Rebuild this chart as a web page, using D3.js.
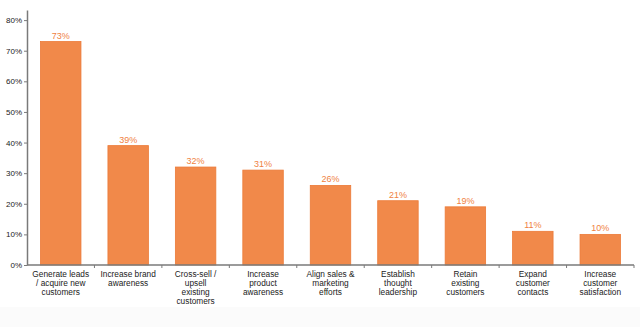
<!DOCTYPE html>
<html>
<head>
<meta charset="utf-8">
<script src="https://cdn.jsdelivr.net/npm/d3@7"></script>
<style>
  html, body { margin: 0; padding: 0; background: #fff; }
  svg { display: block; }
</style>
</head>
<body>
<svg id="chart" width="640" height="327"></svg>
<script>
const categories = [
  ["Generate leads", "/ acquire new", "customers"],
  ["Increase brand", "awareness"],
  ["Cross-sell /", "upsell", "existing", "customers"],
  ["Increase", "product", "awareness"],
  ["Align sales &", "marketing", "efforts"],
  ["Establish", "thought", "leadership"],
  ["Retain", "existing", "customers"],
  ["Expand", "customer", "contacts"],
  ["Increase", "customer", "satisfaction"]
];
const values = [73, 39, 32, 31, 26, 21, 19, 11, 10];
const yTicks = [0, 10, 20, 30, 40, 50, 60, 70, 80];

const svg = d3.select("#chart");
const font = "'Liberation Sans', Arial, Helvetica, sans-serif";
const barColor = "#f1894a";
const axisColor = "#7a7a7a";

// faint bottom band
svg.append("rect").attr("x", 0).attr("y", 307).attr("width", 640).attr("height", 20).attr("fill", "#fbfbfb");

const x = d3.scaleBand().domain(d3.range(categories.length)).range([27, 634]).paddingInner(0.4).paddingOuter(0.2);
const y = d3.scaleLinear().domain([0, 83.3]).range([265, 10]);

// bars
svg.append("g").selectAll("rect").data(values).join("rect")
  .attr("x", (d, i) => x(i))
  .attr("y", d => y(d))
  .attr("width", x.bandwidth())
  .attr("height", d => y(0) - y(d))
  .attr("fill", barColor)
  .attr("stroke", "#ec7a38")
  .attr("stroke-width", 0.8);

// value labels
svg.append("g").selectAll("text").data(values).join("text")
  .attr("x", (d, i) => x(i) + x.bandwidth() / 2)
  .attr("y", d => y(d) - 3)
  .attr("text-anchor", "middle")
  .attr("font-family", font)
  .attr("font-size", 9)
  .attr("fill", "#f0823f")
  .text(d => d + "%");

// y axis
const yAxis = svg.append("g").attr("transform", "translate(27,0)")
  .call(d3.axisLeft(y).tickValues(yTicks).tickFormat(d => d + "%").tickSize(3).tickSizeOuter(0));
yAxis.select(".domain").attr("stroke", axisColor).attr("stroke-width", 1.5);
yAxis.selectAll(".tick line").attr("stroke", axisColor);
yAxis.selectAll(".tick text").attr("font-family", font).attr("font-size", 8).attr("fill", "#222").attr("x", -5);

// x axis with ticks at band boundaries
const xg = svg.append("g").attr("transform", "translate(0,265)");
xg.append("line").attr("x1", 27).attr("x2", 634).attr("y1", 0).attr("y2", 0)
  .attr("stroke", axisColor).attr("stroke-width", 1.5);
const step = x.step();
const bounds = d3.range(1, categories.length + 1).map(i => x(i - 1) + x.bandwidth() + step * 0.4 / 2 + (x.paddingOuter() - 0.2) * step);
xg.selectAll("line.tk").data(bounds).join("line").attr("class", "tk")
  .attr("x1", d => d).attr("x2", d => d).attr("y1", 0).attr("y2", 3)
  .attr("stroke", axisColor);

const labels = xg.selectAll("text").data(categories).join("text")
  .attr("x", (d, i) => x(i) + x.bandwidth() / 2)
  .attr("y", 11.5)
  .attr("text-anchor", "middle")
  .attr("font-family", font)
  .attr("font-size", 8.3)
  .attr("fill", "#222");
labels.each(function(d) {
  const t = d3.select(this);
  d.forEach((line, j) => {
    t.append("tspan").attr("x", t.attr("x")).attr("dy", j === 0 ? 0 : 9.2).text(line);
  });
});
</script>
</body>
</html>
